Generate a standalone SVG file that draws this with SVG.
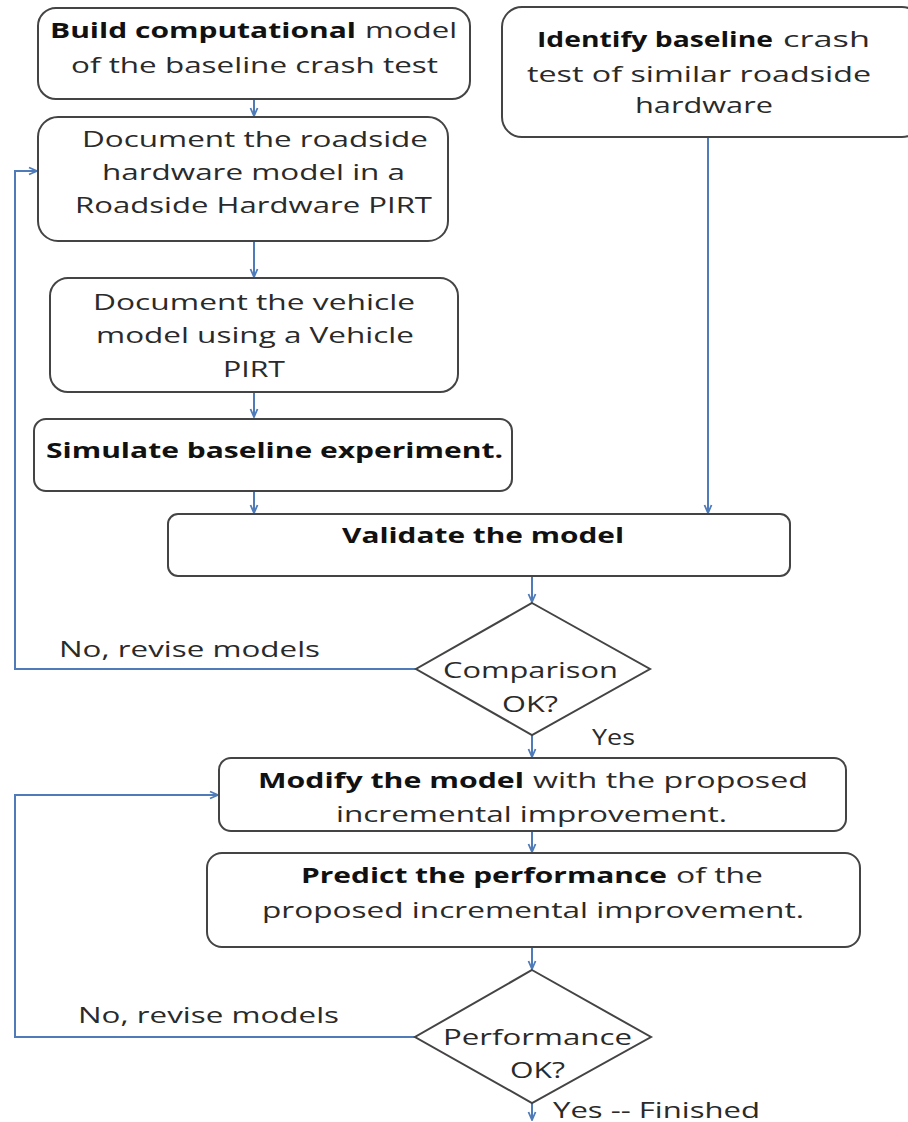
<svg xmlns="http://www.w3.org/2000/svg" width="908" height="1122" viewBox="0 0 908 1122">
<style>
.box{fill:#fff;stroke:#444;stroke-width:2}
.t{font-family:"Open Sans","Liberation Sans",sans-serif;font-size:21px;fill:#2a2a2a}
.b{font-weight:bold;fill:#111}
.c{fill:none;stroke:#4f7bb8;stroke-width:2}
</style>
<defs>
<marker id="arr" viewBox="0 0 10 10" refX="9" refY="5" markerWidth="10" markerHeight="10" markerUnits="userSpaceOnUse" orient="auto">
<path d="M1,1.5 L9,5 L1,8.5" fill="none" stroke="#4f7bb8" stroke-width="1.8"/>
</marker>
</defs>
<rect width="908" height="1122" fill="#fff"/>
<g id="connectors">
<path class="c" d="M254,99 V116" marker-end="url(#arr)"/>
<path class="c" d="M254,241 V277" marker-end="url(#arr)"/>
<path class="c" d="M254,392 V417" marker-end="url(#arr)"/>
<path class="c" d="M254,491 V513" marker-end="url(#arr)"/>
<path class="c" d="M708,137 V513" marker-end="url(#arr)"/>
<path class="c" d="M532,576 V602" marker-end="url(#arr)"/>
<path class="c" d="M416,669 H15 V171 H37" marker-end="url(#arr)"/>
<path class="c" d="M532,735 V757" marker-end="url(#arr)"/>
<path class="c" d="M532,831 V852" marker-end="url(#arr)"/>
<path class="c" d="M532,947 V969" marker-end="url(#arr)"/>
<path class="c" d="M415,1037 H15 V795 H218" marker-end="url(#arr)"/>
<path class="c" d="M532,1103 V1120" marker-end="url(#arr)"/>
</g>
<g id="build">
<rect class="box" x="38" y="8" width="432" height="91" rx="18"/>
<text class="t b" x="50" y="38" textLength="306" lengthAdjust="spacingAndGlyphs">Build computational</text>
<text class="t" x="365" y="38" textLength="92" lengthAdjust="spacingAndGlyphs">model</text>
<text class="t" x="71" y="73" textLength="367" lengthAdjust="spacingAndGlyphs">of the baseline crash test</text>
</g>
<g id="identify">
<rect class="box" x="502" y="7" width="420" height="130" rx="20"/>
<text class="t b" x="537" y="47" textLength="236" lengthAdjust="spacingAndGlyphs">Identify baseline</text>
<text class="t" x="783" y="47" textLength="87" lengthAdjust="spacingAndGlyphs">crash</text>
<text class="t" x="527" y="82" textLength="344" lengthAdjust="spacingAndGlyphs">test of similar roadside</text>
<text class="t" x="635" y="113" textLength="138" lengthAdjust="spacingAndGlyphs">hardware</text>
</g>
<g id="doc-roadside">
<rect class="box" x="38" y="117" width="410" height="124" rx="20"/>
<text class="t" x="82" y="147" textLength="346" lengthAdjust="spacingAndGlyphs">Document the roadside</text>
<text class="t" x="102" y="180" textLength="303" lengthAdjust="spacingAndGlyphs">hardware model in a</text>
<text class="t" x="75" y="213" textLength="357" lengthAdjust="spacingAndGlyphs">Roadside Hardware PIRT</text>
</g>
<g id="doc-vehicle">
<rect class="box" x="50" y="278" width="408" height="114" rx="18"/>
<text class="t" x="93" y="310" textLength="322" lengthAdjust="spacingAndGlyphs">Document the vehicle</text>
<text class="t" x="96" y="343" textLength="318" lengthAdjust="spacingAndGlyphs">model using a Vehicle</text>
<text class="t" x="223" y="377" textLength="62" lengthAdjust="spacingAndGlyphs">PIRT</text>
</g>
<g id="simulate">
<rect class="box" x="34" y="419" width="478" height="72" rx="12"/>
<text class="t b" x="46" y="458" textLength="457" lengthAdjust="spacingAndGlyphs">Simulate baseline experiment.</text>
</g>
<g id="validate">
<rect class="box" x="168" y="514" width="622" height="62" rx="10"/>
<text class="t b" x="342" y="543" textLength="282" lengthAdjust="spacingAndGlyphs">Validate the model</text>
</g>
<g id="comparison">
<polygon class="box" points="532,603 650,669 532,735 416,669"/>
<text class="t" x="443" y="678" textLength="175" lengthAdjust="spacingAndGlyphs">Comparison</text>
<text class="t" x="502" y="712" textLength="56" lengthAdjust="spacingAndGlyphs">OK?</text>
</g>
<g id="labels1">
<text class="t" x="59" y="657" textLength="261" lengthAdjust="spacingAndGlyphs">No, revise models</text>
<text class="t" x="592" y="745" textLength="43" lengthAdjust="spacingAndGlyphs">Yes</text>
</g>
<g id="modify">
<rect class="box" x="219" y="758" width="627" height="73" rx="12"/>
<text class="t b" x="258" y="788" textLength="266" lengthAdjust="spacingAndGlyphs">Modify the model</text>
<text class="t" x="533" y="788" textLength="275" lengthAdjust="spacingAndGlyphs">with the proposed</text>
<text class="t" x="336" y="822" textLength="391" lengthAdjust="spacingAndGlyphs">incremental improvement.</text>
</g>
<g id="predict">
<rect class="box" x="207" y="853" width="653" height="94" rx="15"/>
<text class="t b" x="301" y="883" textLength="366" lengthAdjust="spacingAndGlyphs">Predict the performance</text>
<text class="t" x="676" y="883" textLength="87" lengthAdjust="spacingAndGlyphs">of the</text>
<text class="t" x="262" y="918" textLength="542" lengthAdjust="spacingAndGlyphs">proposed incremental improvement.</text>
</g>
<g id="performance">
<polygon class="box" points="532,970 651,1037 532,1103 415,1037"/>
<text class="t" x="443" y="1045" textLength="189" lengthAdjust="spacingAndGlyphs">Performance</text>
<text class="t" x="510" y="1078" textLength="55" lengthAdjust="spacingAndGlyphs">OK?</text>
</g>
<g id="labels2">
<text class="t" x="78" y="1023" textLength="261" lengthAdjust="spacingAndGlyphs">No, revise models</text>
<text class="t" x="553" y="1118" textLength="207" lengthAdjust="spacingAndGlyphs">Yes -- Finished</text>
</g>
</svg>
